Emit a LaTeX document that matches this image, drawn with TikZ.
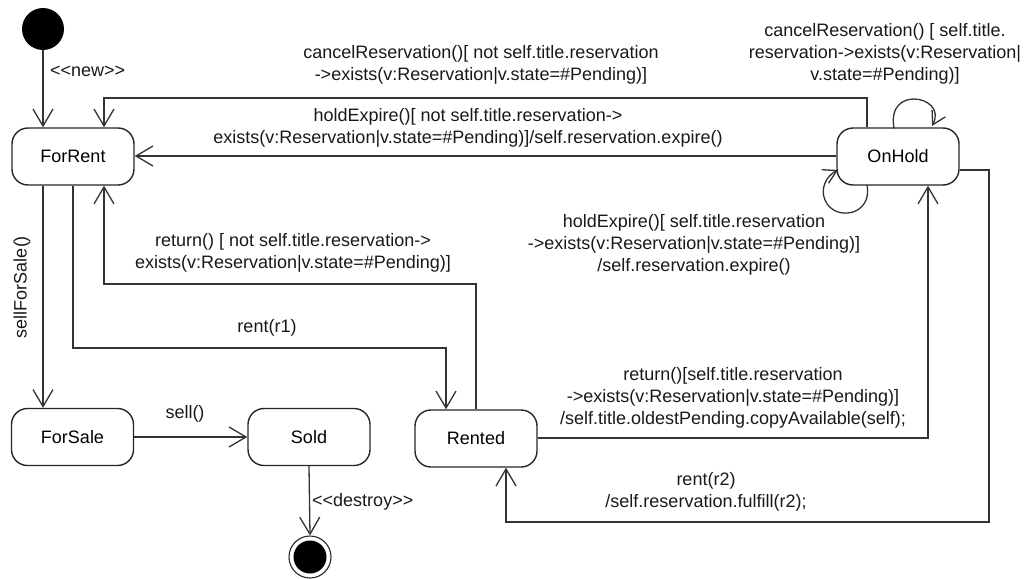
\documentclass[tikz,border=0pt]{standalone}
\usepackage{fontspec}
\setmainfont{Liberation Sans}
\usetikzlibrary{arrows.meta}

\tikzset{
  conn/.style={draw=black!80, line width=1.3pt,
    -{Straight Barb[length=17pt,width=20pt,line width=1.3pt]}},
  loopconn/.style={draw=black!80, line width=1.3pt,
    -{Straight Barb[length=13pt,width=15pt,line width=1.3pt]}},
  state/.style={draw=black!85, line width=1.4pt, rounded corners=16pt,
    minimum width=122pt, minimum height=57pt, inner sep=0pt,
    font=\fontsize{18}{21.5}\selectfont},
  lbl/.style={inner sep=0pt, align=center, text=black!90,
    font=\fontsize{18}{21.8}\selectfont},
}

\begin{document}
\begin{tikzpicture}[x=1pt,y=-1pt]
  \useasboundingbox (0,0) rectangle (1035,578);

  % initial and final pseudo-states
  \node (init) [circle, fill=black, minimum size=42pt, inner sep=0pt] at (43,29) {};
  \node (fin) [circle, draw=black!85, line width=1.1pt, minimum size=42pt, inner sep=0pt] at (310,557) {};
  \node (finin) [circle, fill=black, minimum size=33pt, inner sep=0pt] at (310,557) {};

  % states
  \node (forrent) [state] at (73,156.5) {ForRent};
  \node (onhold)  [state] at (898,156.5) {OnHold};
  \node (forsale) [state] at (72.5,437) {ForSale};
  \node (sold)    [state] at (309,437) {Sold};
  \node (rented)  [state] at (476,438.5) {Rented};

  % creation
  \draw[conn] (init) -- (forrent.north -| init);
  \node (lnew) [lbl, anchor=west] at (50,71) {<{}<new>{}>};

  % OnHold -> ForRent : cancelReservation
  \coordinate (c1) at (867,98);
  \coordinate (c2) at (104,98);
  \draw[conn] (onhold.north -| c1) -- (c1) -- (c2) -- (forrent.north -| c2);
  \node (lcancel) [lbl] at (481,65)
    {cancelReservation()[ not self.title.reservation\\
     ->exists(v:Reservation|v.state=\#Pending)]};

  % OnHold -> ForRent : holdExpire
  \draw[conn] (onhold.west |- 0,156) -- (forrent.east |- 0,156);
  \node (lexp) [lbl] at (468,128)
    {holdExpire()[ not self.title.reservation->\\
     exists(v:Reservation|v.state=\#Pending)]/self.reservation.expire()};

  % OnHold self loops
  \draw[loopconn] (894,128.5) .. controls (890,106) and (903,99) .. (914,99)
                  .. controls (927,99) and (941,109) .. (932,126);
  \node (lloop1) [lbl] at (885,54)
    {cancelReservation() [ self.title.\\
     reservation->exists(v:Reservation|\\
     v.state=\#Pending)]};
  \draw[loopconn] (867,185) .. controls (873,216) and (834,222) .. (825,200)
                  .. controls (820,189) and (826,176) .. (838,170);
  \node (lloop2) [lbl] at (694,245)
    {holdExpire()[ self.title.reservation\\
     ->exists(v:Reservation|v.state=\#Pending)]\\
     /self.reservation.expire()};

  % ForRent -> ForSale
  \draw[conn] (forrent.south -| 43,0) -- (forsale.north -| 43,0);
  \node (lsale) [lbl, rotate=90] at (22,287) {sellForSale()};

  % ForRent -> Rented : rent(r1)
  \coordinate (r1a) at (73,348);
  \coordinate (r1b) at (446,348);
  \draw[conn] (forrent.south -| r1a) -- (r1a) -- (r1b) -- (rented.north -| r1b);
  \node (lrent1) [lbl] at (267,328) {rent(r1)};

  % Rented -> ForRent : return()
  \coordinate (ra) at (476,284);
  \coordinate (rb) at (104,284);
  \draw[conn] (rented.north) -- (ra) -- (rb) -- (forrent.south -| rb);
  \node (lret1) [lbl] at (293,253)
    {return() [ not self.title.reservation->\\
     exists(v:Reservation|v.state=\#Pending)]};

  % ForSale -> Sold
  \draw[conn] (forsale.east) -- (sold.west);
  \node (lsell) [lbl] at (185,414) {sell()};

  % Sold -> final
  \draw[conn] (sold.south) -- (fin.north);
  \node (ldestroy) [lbl, anchor=west] at (312,502) {<{}<destroy>{}>};

  % Rented -> OnHold : return()
  \coordinate (ro) at (928,438);
  \draw[conn] (rented.east |- ro) -- (ro) -- (onhold.south -| ro);
  \node (lret2) [lbl] at (733,398)
    {return()[self.title.reservation\\
     ->exists(v:Reservation|v.state=\#Pending)]\\
     /self.title.oldestPending.copyAvailable(self);};

  % OnHold -> Rented : rent(r2)
  \coordinate (r2a) at (989,170);
  \coordinate (r2b) at (989,522);
  \coordinate (r2c) at (506,522);
  \draw[conn] (onhold.east |- r2a) -- (r2a) -- (r2b) -- (r2c) -- (rented.south -| r2c);
  \node (lrent2) [lbl] at (706,492)
    {rent(r2)\\ /self.reservation.fulfill(r2);};
\end{tikzpicture}
\end{document}
